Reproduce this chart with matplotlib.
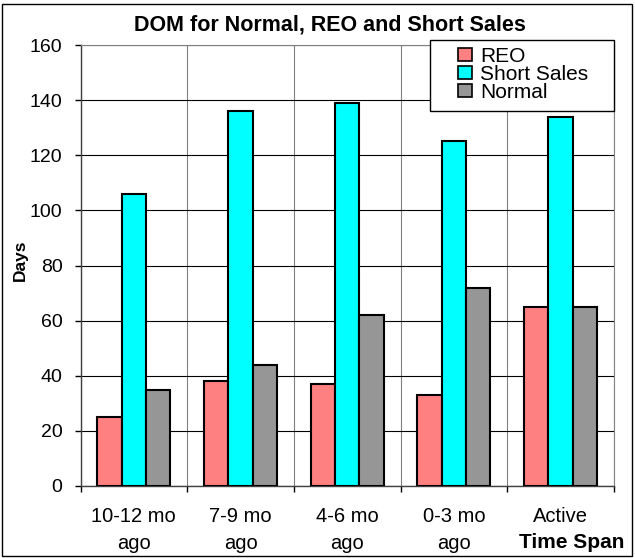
import numpy as np
import matplotlib
matplotlib.use("Agg")
import matplotlib.pyplot as plt
from matplotlib.patches import Rectangle

categories = ["10-12 mo\nago", "7-9 mo\nago", "4-6 mo\nago", "0-3 mo\nago", "Active"]
reo = [25, 38, 37, 33, 65]
short_sales = [106, 136, 139, 125, 134]
normal = [35, 44, 62, 72, 65]

series = [("REO", reo, "#ff8080"), ("Short Sales", short_sales, "#00ffff"), ("Normal", normal, "#969696")]

plt.rcParams["font.family"] = ["Liberation Sans", "DejaVu Sans"]

W, H = 635, 558
fig = plt.figure(figsize=(W / 100, H / 100), dpi=100)


def fx(px):
    return px / W


def fy(py):
    return 1 - py / H


ax = fig.add_axes([fx(80.5), fy(486), fx(614 - 80.5), (486 - 45) / H])

x = np.arange(len(categories))
w = 0.228
for i, (name, vals, col) in enumerate(series):
    ax.bar(x + (i - 1) * w, vals, width=w, color=col, edgecolor="black", linewidth=1.5,
           label=name, zorder=3)

ax.set_xlim(-0.5, len(categories) - 0.5)
ax.set_ylim(0, 160)
ax.set_yticks(range(0, 161, 20))
ax.tick_params(axis="y", labelsize=14, length=4.5, width=1, direction="out", pad=8.5)
ax.set_xticks(x)
ax.set_xticklabels(categories, fontsize=14.5, linespacing=1.52)
ax.tick_params(axis="x", length=0, pad=15)
ax.set_xticks(np.arange(-0.5, len(categories)), minor=True)
ax.tick_params(axis="x", which="minor", length=4.5, width=1, direction="out")

ax.yaxis.grid(True, color="black", linewidth=0.8, zorder=0)
ax.xaxis.grid(True, which="minor", color="#808080", linewidth=0.8, zorder=0)
for s in ["top", "right"]:
    ax.spines[s].set_color("#808080")
for s in ["left", "bottom"]:
    ax.spines[s].set_color("#404040")
    ax.spines[s].set_linewidth(1)

fig.text(fx(20), fy(260), "Days", rotation=90, ha="center", va="center", fontsize=12.5, fontweight="bold")
fig.text(fx(329.5), fy(30.5), "DOM for Normal, REO and Short Sales", ha="center", va="baseline",
         fontsize=15.5, fontweight="bold")
fig.text(fx(624), fy(548), "Time Span", ha="right", va="baseline", fontsize=15, fontweight="bold")

# legend box like the Excel one, text placed inside it
box = Rectangle((fx(430), fy(111)), fx(184), 71 / H, transform=fig.transFigure,
                facecolor="white", edgecolor="black", linewidth=1, zorder=4)
fig.patches.append(box)
handles, labels = ax.get_legend_handles_labels()
leg = fig.legend(handles, labels, loc="upper left", bbox_to_anchor=(fx(458), fy(46.5)),
                 fontsize=15, frameon=False, borderpad=0, labelspacing=-0.03,
                 handlelength=0.68, handleheight=0.58, handletextpad=0.38, borderaxespad=0)
leg.set_zorder(5)
for hnd in leg.legend_handles:
    hnd.set_linewidth(1.2)

fig.patches.append(Rectangle((fx(2), fy(556)), fx(630), 552 / H, transform=fig.transFigure,
                             fill=False, edgecolor="black", linewidth=1))

fig.savefig("out.png", dpi=100)
